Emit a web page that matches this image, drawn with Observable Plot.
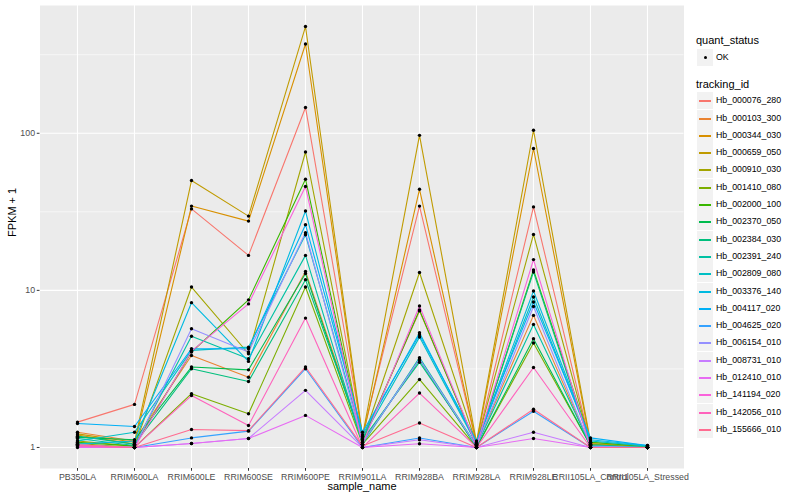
<!DOCTYPE html>
<html><head><meta charset="utf-8">
<script src="https://cdn.jsdelivr.net/npm/d3@7"></script>
<script src="https://cdn.jsdelivr.net/npm/@observablehq/plot@0.6"></script>
<style>
body{margin:0;background:#fff;font-family:"Liberation Sans",Arial,Helvetica,sans-serif;}
#wrap{position:relative;width:800px;height:500px;overflow:hidden;}
#chart{position:absolute;left:0;top:0;}
#legend{position:absolute;left:696px;top:0;width:104px;height:500px;}
.ltitle{position:absolute;left:0;font-size:11px;line-height:11px;color:#000;white-space:nowrap;}
.key{position:absolute;left:1px;width:16px;height:17px;background:#F2F2F2;}
.key .ln{position:absolute;left:2px;right:2px;top:8px;height:1.5px;}
.key .pt{position:absolute;left:6.5px;top:6.5px;width:3.4px;height:3.4px;border-radius:50%;background:#000;}
.lab{position:absolute;left:20px;font-size:8.8px;line-height:9px;color:#000;white-space:nowrap;}
</style></head>
<body>
<div id="wrap"><div id="chart"></div><div id="legend"></div></div>
<script>
const samples = ["PB350LA","RRIM600LA","RRIM600LE","RRIM600SE","RRIM600PE","RRIM901LA","RRIM928BA","RRIM928LA","RRIM928LE","RRII105LA_Control","RRII105LA_Stressed"];
const trackingIds = ["Hb_000076_280","Hb_000103_300","Hb_000344_030","Hb_000659_050","Hb_000910_030","Hb_001410_080","Hb_002000_100","Hb_002370_050","Hb_002384_030","Hb_002391_240","Hb_002809_080","Hb_003376_140","Hb_004117_020","Hb_004625_020","Hb_006154_010","Hb_008731_010","Hb_012410_010","Hb_141194_020","Hb_142056_010","Hb_155666_010"];
const palette = ["#F8766D","#EA8331","#D89000","#C09B00","#A3A500","#7CAE00","#39B600","#00BB4E","#00BF7D","#00C1A3","#00BFC4","#00BAE0","#00B0F6","#35A2FF","#9590FF","#C77CFF","#E76BF3","#FA62DB","#FF62BC","#FF6C91"];
const quantStatus = ["OK"];
const yTicks = [1, 10, 100];

// FPKM + 1 per sample, in the order of `samples`
const hb_000076_280 = [1.45, 1.88, 33, 16.7, 146, 1.2, 34.4, 1.05, 34, 1.05, 1.0];
const hb_000103_300 = [1.25, 1.1, 3.85, 2.8, 13.2, 1.12, 7.4, 1.03, 6.93, 1.02, 1.0];
const hb_000344_030 = [1.2, 1.05, 34.4, 27.6, 370, 1.15, 44, 1.06, 80, 1.06, 1.01];
const hb_000659_050 = [1.22, 1.08, 50, 29.7, 478, 1.18, 97, 1.08, 104.5, 1.08, 1.02];
const hb_000910_030 = [1.1, 1.02, 10.5, 3.95, 76, 1.1, 13, 1.05, 22.7, 1.05, 1.0];
const hb_001410_080 = [1.06, 1.0, 2.2, 1.64, 10.5, 1.05, 2.71, 1.0, 4.62, 1.03, 1.0];
const hb_002000_100 = [1.08, 1.02, 4.05, 8.7, 51, 1.1, 7.5, 1.02, 13.5, 1.08, 1.01];
const hb_002370_050 = [1.16, 1.12, 3.25, 3.12, 12.8, 1.08, 3.62, 1.0, 4.92, 1.02, 1.0];
const hb_002384_030 = [1.18, 1.05, 3.17, 2.63, 11.7, 1.12, 3.49, 1.03, 13.1, 1.04, 1.0];
const hb_002391_240 = [1.14, 1.03, 5.1, 3.67, 16.7, 1.05, 3.73, 1.02, 6.07, 1.03, 1.0];
const hb_002809_080 = [1.1, 1.25, 4.15, 4.35, 22.6, 1.15, 5.04, 1.05, 9.07, 1.1, 1.02];
const hb_003376_140 = [1.05, 1.1, 8.35, 3.53, 32, 1.2, 5.38, 1.06, 9.9, 1.12, 1.03];
const hb_004117_020 = [1.42, 1.36, 4.25, 4.25, 26.2, 1.25, 5.22, 1.1, 8.43, 1.15, 1.03];
const hb_004625_020 = [1.02, 1.0, 1.15, 1.27, 3.17, 1.0, 1.15, 1.0, 1.7, 1.0, 1.0];
const hb_006154_010 = [1.04, 1.0, 5.7, 4.05, 23.3, 1.07, 3.65, 1.02, 7.9, 1.02, 1.0];
const hb_008731_010 = [1.02, 1.0, 1.06, 1.14, 2.31, 1.0, 1.12, 1.0, 1.25, 1.0, 1.0];
const hb_012410_010 = [1.0, 1.0, 1.06, 1.14, 1.6, 1.0, 1.055, 1.0, 1.14, 1.0, 1.0];
const hb_141194_020 = [1.03, 1.0, 4.1, 8.2, 45.8, 1.05, 7.95, 1.02, 15.7, 1.0, 1.0];
const hb_142056_010 = [1.02, 1.0, 2.14, 1.38, 6.66, 1.0, 2.22, 1.0, 3.23, 1.0, 1.0];
const hb_155666_010 = [1.04, 1.0, 1.30, 1.28, 3.25, 1.02, 1.43, 1.0, 1.75, 1.0, 1.0];

const seriesValues = [hb_000076_280, hb_000103_300, hb_000344_030, hb_000659_050, hb_000910_030,
  hb_001410_080, hb_002000_100, hb_002370_050, hb_002384_030, hb_002391_240, hb_002809_080,
  hb_003376_140, hb_004117_020, hb_004625_020, hb_006154_010, hb_008731_010, hb_012410_010,
  hb_141194_020, hb_142056_010, hb_155666_010];

const rows = trackingIds.flatMap((id, i) => samples.map((s, j) => ({id, sample: s, value: seriesValues[i][j], status: quantStatus[0]})));

const logs = rows.map(d => Math.log10(d.value));
const lo = d3.min(logs), hi = d3.max(logs), pad = 0.05 * (hi - lo);
const yMinor = d3.range(0, Math.ceil(hi + pad)).map(k => Math.pow(10, k + 0.5));

const font = "'Liberation Sans', Arial, Helvetica, sans-serif";
const chart = Plot.plot({
  width: 692, height: 500,
  marginLeft: 39.5, marginRight: 8.5, marginTop: 5, marginBottom: 32,
  style: {background: "transparent", fontFamily: font, overflow: "visible"},
  x: {type: "point", domain: samples, padding: 0.6, label: null},
  y: {type: "log", domain: [Math.pow(10, lo - pad), Math.pow(10, hi + pad)], label: null},
  color: {domain: trackingIds, range: palette},
  marks: [
    Plot.frame({fill: "#EBEBEB", stroke: null}),
    Plot.gridY(yMinor, {stroke: "#fff", strokeOpacity: 1, strokeWidth: 0.6}),
    Plot.gridY(yTicks, {stroke: "#fff", strokeOpacity: 1, strokeWidth: 1.1}),
    Plot.gridX(samples, {stroke: "#fff", strokeOpacity: 1, strokeWidth: 1.1}),
    Plot.line(rows, {x: "sample", y: "value", z: "id", stroke: "id", strokeWidth: 1.1}),
    Plot.dot(rows, {x: "sample", y: "value", r: 1.7, fill: "#000", stroke: null}),
    Plot.axisX({tickSize: 2.75, tickPadding: 2.2, fontSize: 8.8, fill: "#4D4D4D", stroke: "#333", label: null}),
    Plot.axisY(yTicks, {tickSize: 2.75, tickPadding: 2.2, fontSize: 8.8, fill: "#4D4D4D", stroke: "#333", tickFormat: d => String(d), label: null}),
    Plot.text(["sample_name"], {frameAnchor: "bottom", dy: 21, fontSize: 11, fill: "#000", text: d => d}),
    Plot.text(["FPKM + 1"], {frameAnchor: "left", dx: -27.5, rotate: -90, fontSize: 11, fill: "#000", text: d => d})
  ]
});
document.getElementById("chart").appendChild(chart);

// ggplot-style legend
const lg = document.getElementById("legend");
function add(html) { const t = document.createElement("div"); t.innerHTML = html; const el = t.firstChild; lg.appendChild(el); return el; }
add(`<div class="ltitle" style="top:${Math.round(40.7 - 5.5)}px">quant_status</div>`);
quantStatus.forEach((q, i) => {
  add(`<div class="key" style="top:${Math.round(49 + i * 17.3)}px"><div class="pt"></div></div>`);
  add(`<div class="lab" style="top:${Math.round(57 + i * 17.3 - 4.5)}px">${q}</div>`);
});
add(`<div class="ltitle" style="top:${Math.round(84 - 5.5)}px">tracking_id</div>`);
trackingIds.forEach((id, i) => {
  const cy = 100.7 + i * 17.3;
  add(`<div class="key" style="top:${Math.round(cy - 8.5)}px"><div class="ln" style="background:${palette[i]}"></div></div>`);
  add(`<div class="lab" style="top:${Math.round(cy - 4.5)}px">${id}</div>`);
});
</script>
</body></html>
